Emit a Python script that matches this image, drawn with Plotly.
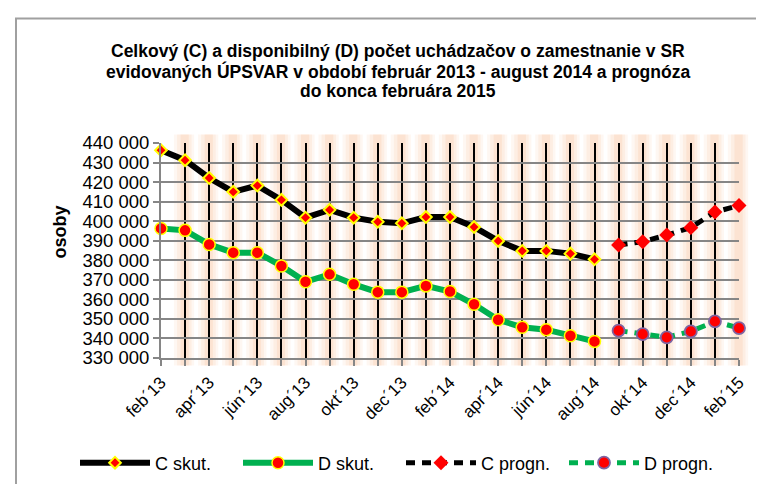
import plotly.graph_objects as go

months = ["feb´13", "mar´13", "apr´13", "máj´13", "jún´13", "júl´13", "aug´13",
          "sep´13", "okt´13", "nov´13", "dec´13", "jan´14", "feb´14", "mar´14",
          "apr´14", "máj´14", "jún´14", "júl´14", "aug´14", "sep´14", "okt´14",
          "nov´14", "dec´14", "jan´15", "feb´15"]
actual_months = months[:19]
forecast_months = months[19:]

c_skut = [436300, 431200, 422100, 415000, 418200, 410900, 401800, 405800, 401800,
          399700, 398900, 402100, 402100, 397000, 389900, 384800, 384800, 383400, 380500]
d_skut = [396300, 395300, 388100, 383900, 383900, 377100, 369000, 372800, 367700,
          363700, 363700, 366900, 364000, 357500, 349600, 345700, 344500, 341400, 338500]
c_progn = [387800, 389500, 392900, 396700, 404700, 408000]
d_progn = [344000, 342200, 340600, 343600, 348700, 345300]

title_lines = ["Celkový (C) a disponibilný (D) počet uchádzačov o zamestnanie v SR",
               "evidovaných ÚPSVAR v období február 2013 - august 2014 a prognóza",
               "do konca februára 2015"]
y_title = "osoby"
tick_text = [m if i % 2 == 0 else "" for i, m in enumerate(months)]

W, H = 764, 484
ML, MR, MT, MB = 153, 33, 135, 133
PW, PH = W - ML - MR, H - MT - MB


def px_x(px):
    return (px - ML) / PW


def px_y(py):
    return (H - MB - py) / PH


FONT = "Liberation Sans, Arial, sans-serif"

fig = go.Figure()

fig.add_trace(go.Scatter(
    x=actual_months, y=c_skut, name="C skut.", mode="lines+markers",
    line=dict(color="black", width=6),
    marker=dict(symbol="diamond", size=9, color="#ff0000",
                line=dict(color="#ffff00", width=2)),
    cliponaxis=False))
fig.add_trace(go.Scatter(
    x=actual_months, y=d_skut, name="D skut.", mode="lines+markers",
    line=dict(color="#00b050", width=6),
    marker=dict(symbol="circle", size=12, color="#ff0000",
                line=dict(color="#ffff00", width=1.5)),
    cliponaxis=False))
fig.add_trace(go.Scatter(
    x=forecast_months, y=c_progn, name="C progn.", mode="lines+markers",
    line=dict(color="black", width=5, dash="9px,7px"),
    marker=dict(symbol="diamond", size=11.5, color="#ff0000",
                line=dict(color="#ff0000", width=0)),
    cliponaxis=False))
fig.add_trace(go.Scatter(
    x=forecast_months, y=d_progn, name="D progn.", mode="lines+markers",
    line=dict(color="#00b050", width=5, dash="9px,7px"),
    marker=dict(symbol="circle", size=12, color="#ff0000",
                line=dict(color="#7f64a2", width=1.8)),
    cliponaxis=False))

shapes = []
# soft peach glow around the vertical grid lines
n = len(months)
for i in range(1, n):
    xc = i / (n - 1)
    for half, op in [(0.42, 0.12), (0.3, 0.16), (0.17, 0.22)]:
        shapes.append(dict(type="rect", xref="paper", yref="paper",
                           x0=xc - half / (n - 1) * 1.1, x1=xc + half / (n - 1) * 0.9,
                           y0=-0.035, y1=1.04, line=dict(width=0),
                           fillcolor="rgba(250,190,150,%.2f)" % op, layer="below"))
# chart frame
shapes.append(dict(type="rect", xref="paper", yref="paper",
                   x0=px_x(8), x1=px_x(W + 20), y0=px_y(H + 20), y1=px_y(10),
                   line=dict(color="#a0a0a0", width=2), fillcolor="rgba(0,0,0,0)",
                   layer="below"))

annotations = []
for line, py in zip(title_lines, [43, 63, 83]):
    annotations.append(dict(text="<b>%s</b>" % line, xref="paper", yref="paper",
                            x=px_x(390), y=px_y(py), xanchor="center", yanchor="middle",
                            showarrow=False, font=dict(family=FONT, size=17.5, color="black")))
annotations.append(dict(text="<b>%s</b>" % y_title, xref="paper", yref="paper",
                        x=px_x(52), y=px_y(224), textangle=-90, showarrow=False,
                        xanchor="center", yanchor="middle",
                        font=dict(family=FONT, size=18, color="black")))

fig.update_layout(
    width=W, height=H,
    margin=dict(l=ML, r=MR, t=MT, b=MB, pad=0),
    paper_bgcolor="white", plot_bgcolor="rgba(0,0,0,0)",
    separators=", ",
    font=dict(family=FONT, size=18, color="black"),
    showlegend=True,
    legend=dict(orientation="h", x=px_x(67), y=px_y(455), xanchor="left", yanchor="middle",
                font=dict(family=FONT, size=18, color="black"),
                itemwidth=70, entrywidth=78, entrywidthmode="pixels", tracegroupgap=0,
                bgcolor="rgba(0,0,0,0)"),
    shapes=shapes,
    annotations=annotations,
)

fig.update_xaxes(
    type="category", categoryorder="array", categoryarray=months,
    range=[0, n - 1],
    tickmode="array", tickvals=months, ticktext=tick_text,
    tickangle=-45, tickfont=dict(family=FONT, size=17),
    showgrid=True, gridcolor="black", gridwidth=2,
    showline=True, linecolor="#868686", linewidth=2,
    ticks="outside", ticklen=6, tickcolor="#868686", tickwidth=2,
    zeroline=False, fixedrange=True)
fig.update_yaxes(
    range=[330000, 440000], dtick=10000, tick0=330000,
    tickformat=",d", tickfont=dict(family=FONT, size=18.5),
    showgrid=True, gridcolor="#868686", gridwidth=2,
    showline=True, linecolor="#868686", linewidth=2,
    ticks="outside", ticklen=6, tickcolor="#868686", tickwidth=2,
    zeroline=False, fixedrange=True)

fig.write_html("out.html")
